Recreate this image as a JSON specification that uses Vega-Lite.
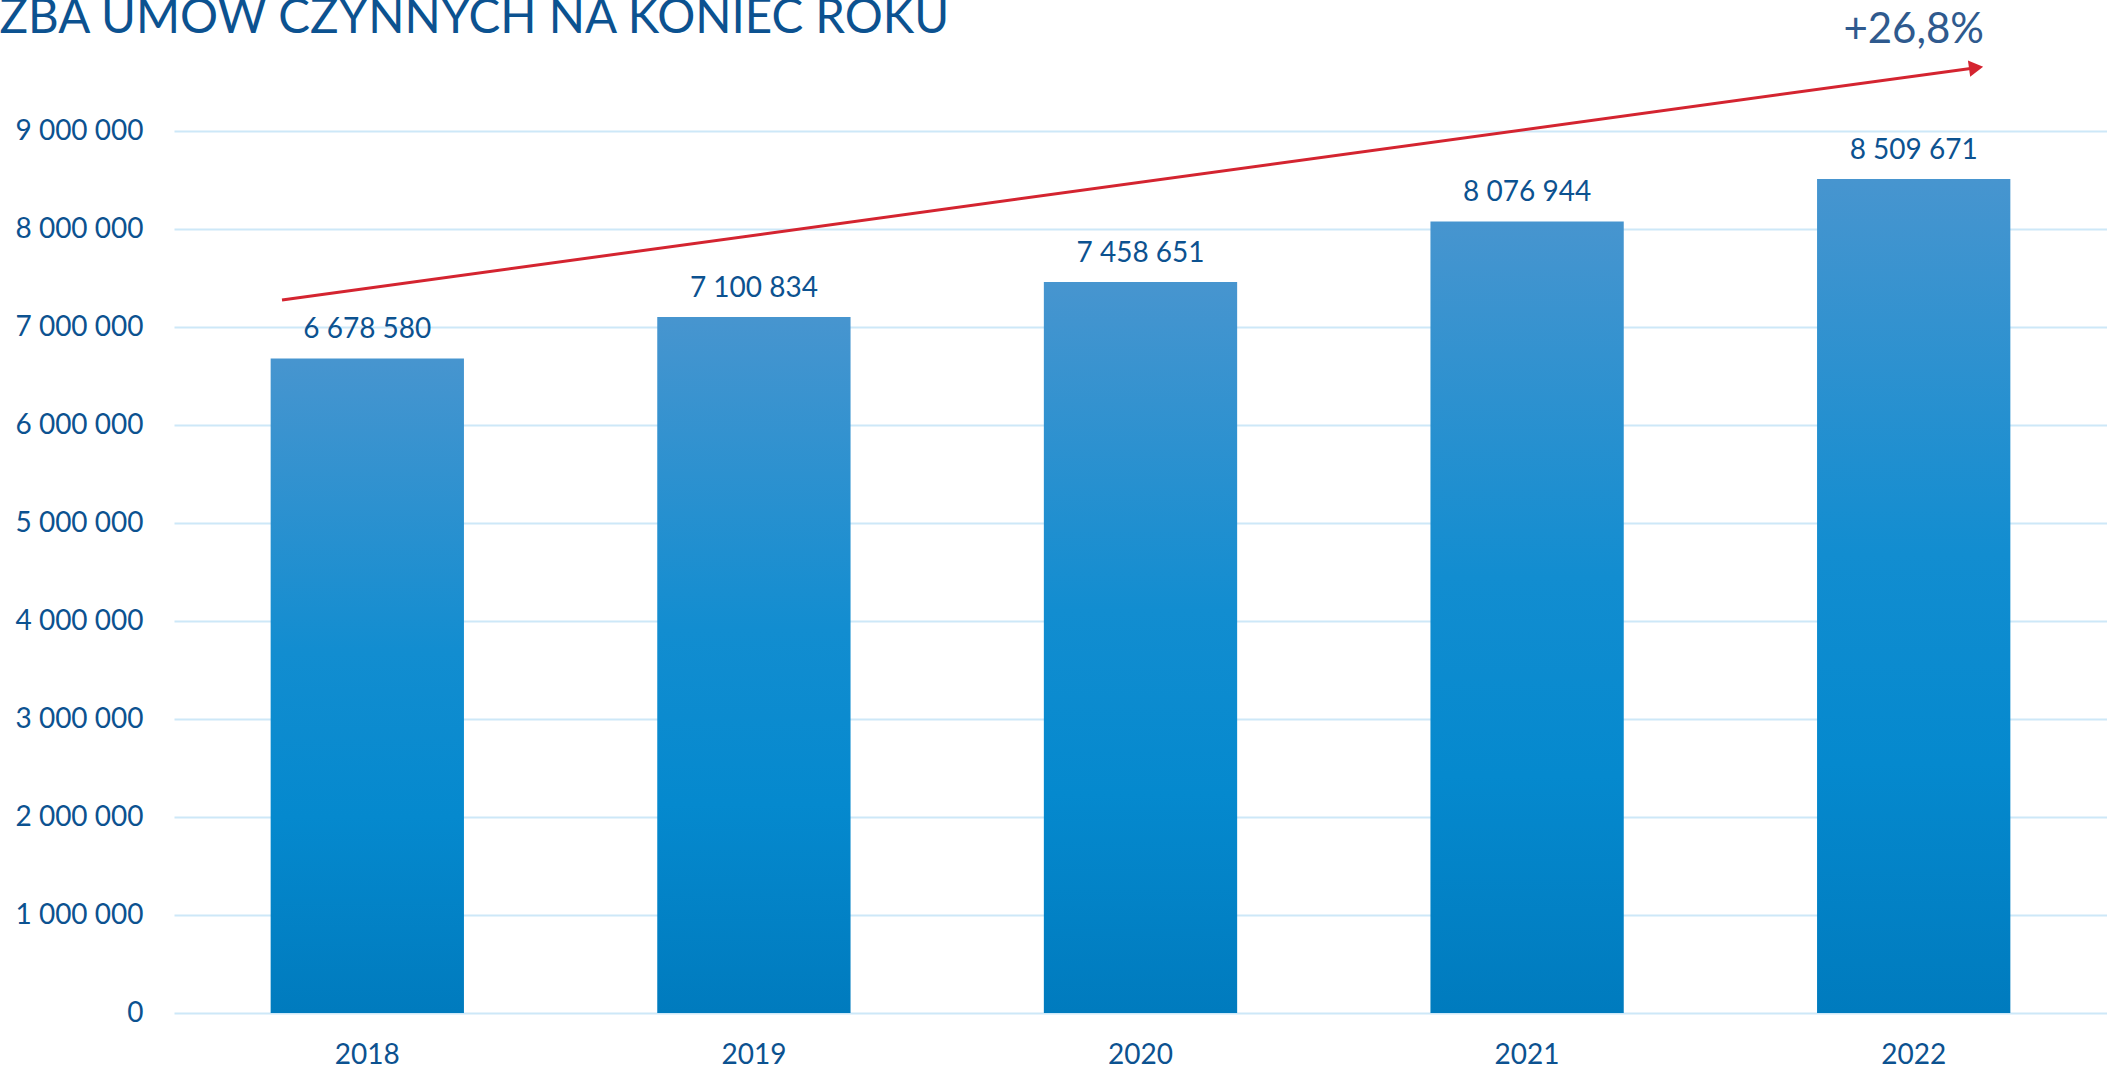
{
  "$schema": "https://vega.github.io/schema/vega-lite/v6.json",
  "autosize": "none",
  "width": 1933,
  "height": 882,
  "padding": {"left": 174, "top": 131, "right": 0, "bottom": 56},
  "background": "white",
  "title": {
    "text": "LICZBA UMÓW CZYNNYCH NA KONIEC ROKU",
    "anchor": "start",
    "frame": "group",
    "baseline": "alphabetic",
    "offset": 0,
    "dx": -244,
    "dy": 72,
    "font": "Lato",
    "fontSize": 47.5,
    "fontWeight": "normal",
    "color": "#0C5290"
  },
  "config": {
    "locale": {"number": {"decimal": ",", "thousands": " ", "grouping": [3], "currency": ["", " zł"]}},
    "view": {"stroke": null},
    "font": "Lato"
  },
  "datasets": {
    "bars": [
      {"year": "2018", "value": 6678580},
      {"year": "2019", "value": 7100834},
      {"year": "2020", "value": 7458651},
      {"year": "2021", "value": 8076944},
      {"year": "2022", "value": 8509671}
    ],
    "growth": [
      {"year": "2022", "value": 9898000, "label": "+26,8%"}
    ],
    "arrow": [
      {"t": 0.2794, "v": 7275500},
      {"t": 4.6614, "v": 9646000}
    ],
    "arrowhead": [
      {"t": 4.6614, "v": 9646000}
    ]
  },
  "resolve": {"scale": {"x": "independent"}},
  "layer": [
    {
      "layer": [
        {
          "data": {"name": "bars"},
          "mark": {
            "type": "bar",
            "color": {
              "gradient": "linear",
              "x1": 0, "y1": 0, "x2": 0, "y2": 1,
              "stops": [
                {"offset": 0, "color": "#4795CF"},
                {"offset": 0.45, "color": "#128DD0"},
                {"offset": 0.7, "color": "#0589CE"},
                {"offset": 1, "color": "#007BBE"}
              ]
            }
          },
          "encoding": {
            "x": {
              "field": "year", "type": "nominal",
              "scale": {"paddingInner": 0.5, "paddingOuter": 0.25},
              "axis": {
                "title": null, "domain": false, "ticks": false, "tickSize": 0,
                "labelAngle": 0, "labelPadding": 28, "labelFont": "Lato",
                "labelFontSize": 28, "labelColor": "#0C5290", "grid": false
              }
            },
            "y": {
              "field": "value", "type": "quantitative",
              "scale": {"domain": [0, 9000000], "nice": false},
              "axis": {
                "title": null, "domain": false, "ticks": false, "tickSize": 0,
                "values": [0, 1000000, 2000000, 3000000, 4000000, 5000000, 6000000, 7000000, 8000000, 9000000],
                "format": ",d", "labelPadding": 31, "labelFont": "Lato",
                "labelFontSize": 28, "labelColor": "#0C5290",
                "grid": true, "gridColor": "#CDE8F8", "gridWidth": 2
              }
            }
          }
        },
        {
          "data": {"name": "bars"},
          "mark": {"type": "text", "baseline": "alphabetic", "dy": -20, "font": "Lato", "fontSize": 28, "color": "#0C5290"},
          "encoding": {
            "x": {"field": "year", "type": "nominal"},
            "y": {"field": "value", "type": "quantitative"},
            "text": {"field": "value", "type": "quantitative", "format": ",d"}
          }
        },
        {
          "data": {"name": "growth"},
          "mark": {"type": "text", "baseline": "alphabetic", "font": "Lato", "fontSize": 42, "color": "#2F5A8E"},
          "encoding": {
            "x": {"field": "year", "type": "nominal"},
            "y": {"field": "value", "type": "quantitative"},
            "text": {"field": "label", "type": "nominal"}
          }
        }
      ]
    },
    {
      "layer": [
        {
          "data": {"name": "arrow"},
          "mark": {"type": "line", "color": "#D42430", "strokeWidth": 3},
          "encoding": {
            "x": {"field": "t", "type": "quantitative", "scale": {"domain": [0, 5], "nice": false, "zero": false}, "axis": null},
            "y": {"field": "v", "type": "quantitative"}
          }
        },
        {
          "data": {"name": "arrowhead"},
          "mark": {"type": "point", "shape": "triangle-right", "filled": true, "size": 270, "angle": -7.81, "color": "#D42430", "opacity": 1},
          "encoding": {
            "x": {"field": "t", "type": "quantitative"},
            "y": {"field": "v", "type": "quantitative"}
          }
        }
      ]
    }
  ]
}
